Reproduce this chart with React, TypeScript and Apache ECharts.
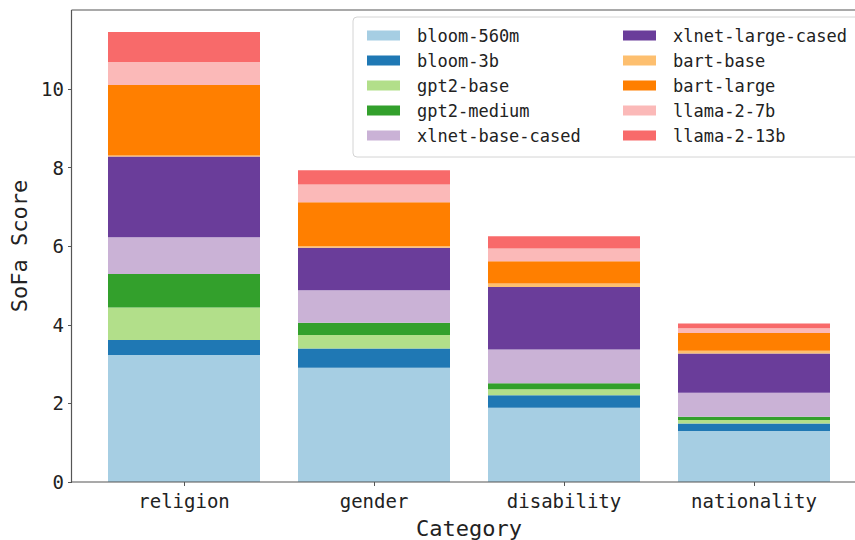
import React, { useEffect, useRef } from "react";
import * as echarts from "echarts";

const categories = ["religion", "gender", "disability", "nationality"];
const seriesNames = [
  "bloom-560m",
  "bloom-3b",
  "gpt2-base",
  "gpt2-medium",
  "xlnet-base-cased",
  "xlnet-large-cased",
  "bart-base",
  "bart-large",
  "llama-2-7b",
  "llama-2-13b",
];
const bloom560m = [3.23, 2.91, 1.89, 1.3];
const bloom3b = [0.38, 0.49, 0.32, 0.19];
const gpt2Base = [0.83, 0.34, 0.15, 0.09];
const gpt2Medium = [0.85, 0.31, 0.15, 0.08];
const xlnetBase = [0.94, 0.83, 0.86, 0.61];
const xlnetLarge = [2.05, 1.08, 1.59, 1.0];
const bartBase = [0.03, 0.04, 0.09, 0.07];
const bartLarge = [1.79, 1.12, 0.57, 0.45];
const llama7b = [0.59, 0.45, 0.32, 0.12];
const llama13b = [0.76, 0.36, 0.31, 0.12];
const yTicks = [0, 2, 4, 6, 8, 10];

const seriesValues = [
  bloom560m,
  bloom3b,
  gpt2Base,
  gpt2Medium,
  xlnetBase,
  xlnetLarge,
  bartBase,
  bartLarge,
  llama7b,
  llama13b,
];
const colors = [
  "#a6cee3",
  "#1f78b4",
  "#b2df8a",
  "#33a02c",
  "#cab2d6",
  "#6a3d9a",
  "#fdbf6f",
  "#ff7f00",
  "#fbb9b8",
  "#f86a6a",
];

const FONT = "DejaVu Sans Mono";
const TEXT = "#222";
const SPINE = "#555";

export default function App() {
  const ref = useRef<HTMLDivElement>(null);
  useEffect(() => {
    if (!ref.current) return;
    const chart = echarts.init(ref.current, null, { renderer: "svg" });
    const legendText = {
      fontFamily: FONT,
      fontSize: 17,
      color: TEXT,
      lineHeight: 17,
      padding: [0, 0, 0, 12],
    };
    const legendBase = {
      orient: "vertical",
      top: 22,
      itemWidth: 33,
      itemHeight: 10,
      itemGap: 8,
      icon: "rect",
      selectedMode: false,
      textStyle: legendText,
    };
    chart.setOption({
      animation: false,
      color: colors,
      grid: {
        left: 89,
        width: 760,
        top: 10,
        height: 472,
        containLabel: false,
        outerBoundsMode: "none",
      },
      legend: [
        { ...legendBase, data: seriesNames.slice(0, 5), left: 362 },
        { ...legendBase, data: seriesNames.slice(5), left: 618 },
      ],
      xAxis: {
        type: "category",
        data: categories,
        name: "Category",
        nameLocation: "middle",
        nameGap: 35,
        nameTextStyle: { fontFamily: FONT, fontSize: 22, color: TEXT },
        axisLine: { show: false },
        axisTick: {
          show: true,
          alignWithLabel: true,
          length: 4,
          lineStyle: { color: SPINE, width: 1 },
        },
        axisLabel: { fontFamily: FONT, fontSize: 19, color: TEXT, margin: 9 },
        splitLine: { show: false },
      },
      yAxis: {
        type: "value",
        min: 0,
        max: 12.01,
        interval: 2,
        offset: 17,
        name: "SoFa Score",
        nameLocation: "middle",
        nameGap: 38,
        nameRotate: 90,
        nameTextStyle: { fontFamily: FONT, fontSize: 22, color: TEXT },
        axisLine: { show: false },
        axisTick: {
          show: true,
          length: 4,
          customValues: yTicks,
          lineStyle: { color: SPINE, width: 1 },
        },
        axisLabel: {
          fontFamily: FONT,
          fontSize: 19,
          color: TEXT,
          margin: 8,
          customValues: yTicks,
          formatter: (v: number) => String(v),
        },
        splitLine: { show: false },
      },
      graphic: [
        {
          type: "rect",
          z: 1,
          shape: { x: 353, y: 17, width: 520, height: 140, r: 4 },
          style: { fill: "#fff", stroke: "#d4d4d4", lineWidth: 1 },
        },
        {
          type: "line",
          z: 10,
          shape: { x1: 71.5, y1: 10, x2: 71.5, y2: 482 },
          style: { stroke: SPINE, lineWidth: 1.2 },
        },
        {
          type: "line",
          z: 10,
          shape: { x1: 71.5, y1: 10, x2: 855, y2: 10 },
          style: { stroke: SPINE, lineWidth: 1.2 },
        },
        {
          type: "line",
          z: 10,
          shape: { x1: 71.5, y1: 482, x2: 855, y2: 482 },
          style: { stroke: SPINE, lineWidth: 1.2 },
        },
      ],
      series: seriesNames.map((name, i) => ({
        name,
        type: "bar",
        stack: "total",
        barWidth: "80%",
        data: seriesValues[i],
        itemStyle: { color: colors[i] },
      })),
    });
    return () => chart.dispose();
  }, []);
  return (
    <div
      ref={ref}
      style={{ position: "fixed", left: 0, top: 0, width: 855, height: 540, background: "#fff" }}
    />
  );
}
